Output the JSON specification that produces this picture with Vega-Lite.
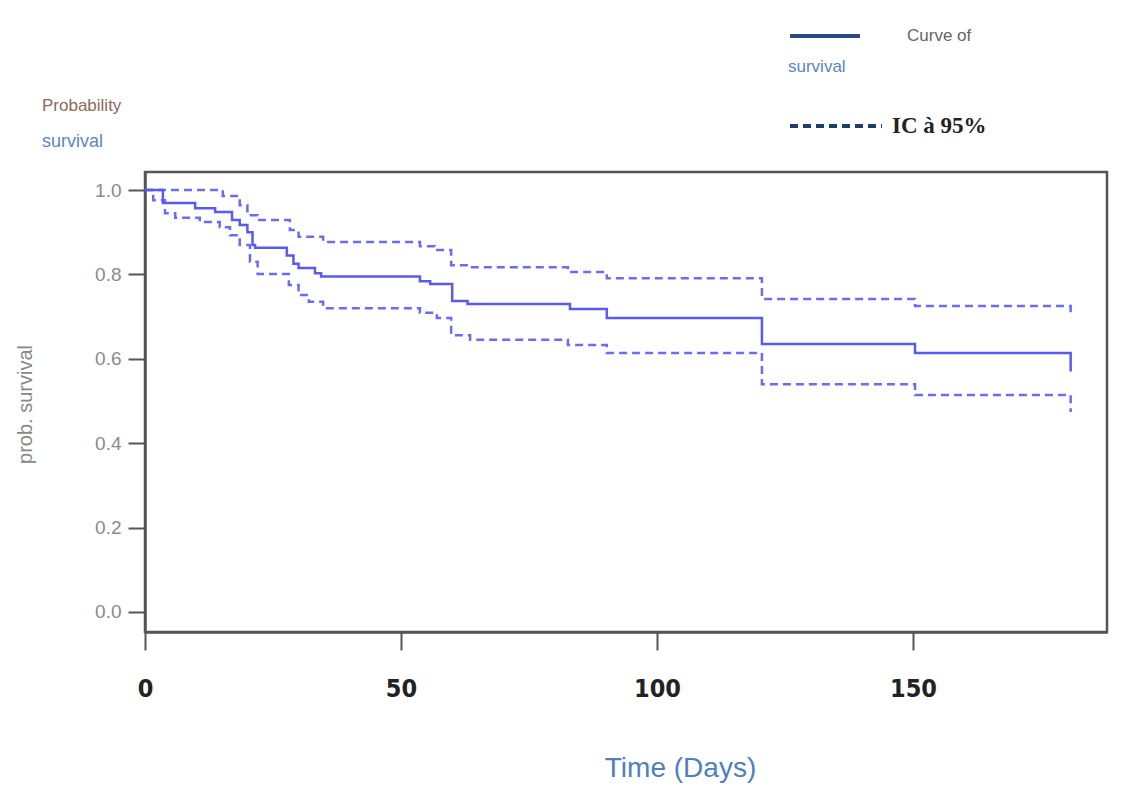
{
  "$schema": "https://vega.github.io/schema/vega-lite/v6.json",
  "width": 962,
  "height": 460,
  "autosize": {"type": "none"},
  "padding": {"left": 145, "top": 172, "right": 36, "bottom": 155},
  "background": "white",
  "title": {
    "text": "Probability",
    "subtitle": "survival",
    "anchor": "start",
    "frame": "group",
    "dx": -103,
    "dy": 179,
    "offset": 26,
    "font": "Liberation Sans",
    "fontSize": 17,
    "fontWeight": "normal",
    "color": "#8a6a5c",
    "subtitleFont": "Liberation Sans",
    "subtitleFontSize": 18,
    "subtitleColor": "#5b86c0",
    "subtitlePadding": 18
  },
  "datasets": {
    "km": [
      {"t": 0, "s": 1.0, "series": "survival"},
      {"t": 3.5, "s": 0.969, "series": "survival"},
      {"t": 9.8, "s": 0.957, "series": "survival"},
      {"t": 13.7, "s": 0.948, "series": "survival"},
      {"t": 17, "s": 0.929, "series": "survival"},
      {"t": 18.5, "s": 0.917, "series": "survival"},
      {"t": 20, "s": 0.9, "series": "survival"},
      {"t": 21, "s": 0.87, "series": "survival"},
      {"t": 21.5, "s": 0.863, "series": "survival"},
      {"t": 27.7, "s": 0.845, "series": "survival"},
      {"t": 29, "s": 0.825, "series": "survival"},
      {"t": 30, "s": 0.815, "series": "survival"},
      {"t": 33.2, "s": 0.803, "series": "survival"},
      {"t": 34.4, "s": 0.795, "series": "survival"},
      {"t": 53.7, "s": 0.784, "series": "survival"},
      {"t": 55.7, "s": 0.777, "series": "survival"},
      {"t": 60, "s": 0.737, "series": "survival"},
      {"t": 63, "s": 0.73, "series": "survival"},
      {"t": 83, "s": 0.718, "series": "survival"},
      {"t": 90.2, "s": 0.697, "series": "survival"},
      {"t": 120.5, "s": 0.635, "series": "survival"},
      {"t": 150.4, "s": 0.614, "series": "survival"},
      {"t": 180.8, "s": 0.57, "series": "survival"},
      {"t": 0, "s": 1.0, "series": "upper"},
      {"t": 15.2, "s": 0.986, "series": "upper"},
      {"t": 18.5, "s": 0.964, "series": "upper"},
      {"t": 20, "s": 0.94, "series": "upper"},
      {"t": 22, "s": 0.929, "series": "upper"},
      {"t": 28.3, "s": 0.905, "series": "upper"},
      {"t": 30, "s": 0.889, "series": "upper"},
      {"t": 34.8, "s": 0.877, "series": "upper"},
      {"t": 53.7, "s": 0.867, "series": "upper"},
      {"t": 56.6, "s": 0.858, "series": "upper"},
      {"t": 59.8, "s": 0.822, "series": "upper"},
      {"t": 63.5, "s": 0.817, "series": "upper"},
      {"t": 82.6, "s": 0.806, "series": "upper"},
      {"t": 90.2, "s": 0.791, "series": "upper"},
      {"t": 120.5, "s": 0.742, "series": "upper"},
      {"t": 150.4, "s": 0.725, "series": "upper"},
      {"t": 180.8, "s": 0.709, "series": "upper"},
      {"t": 0, "s": 1.0, "series": "lower"},
      {"t": 1.6, "s": 0.976, "series": "lower"},
      {"t": 3.9, "s": 0.945, "series": "lower"},
      {"t": 5.9, "s": 0.934, "series": "lower"},
      {"t": 10.7, "s": 0.924, "series": "lower"},
      {"t": 14.6, "s": 0.912, "series": "lower"},
      {"t": 16.6, "s": 0.893, "series": "lower"},
      {"t": 18.5, "s": 0.87, "series": "lower"},
      {"t": 20.5, "s": 0.83, "series": "lower"},
      {"t": 22, "s": 0.801, "series": "lower"},
      {"t": 28.1, "s": 0.775, "series": "lower"},
      {"t": 30, "s": 0.751, "series": "lower"},
      {"t": 32, "s": 0.735, "series": "lower"},
      {"t": 34.8, "s": 0.72, "series": "lower"},
      {"t": 53.7, "s": 0.709, "series": "lower"},
      {"t": 57, "s": 0.697, "series": "lower"},
      {"t": 59.8, "s": 0.656, "series": "lower"},
      {"t": 63.5, "s": 0.645, "series": "lower"},
      {"t": 82.6, "s": 0.633, "series": "lower"},
      {"t": 90.2, "s": 0.614, "series": "lower"},
      {"t": 120.5, "s": 0.54, "series": "lower"},
      {"t": 150.4, "s": 0.514, "series": "lower"},
      {"t": 180.8, "s": 0.474, "series": "lower"}
    ]
  },
  "data": {"name": "km"},
  "encoding": {
    "x": {
      "field": "t",
      "type": "quantitative",
      "scale": {"domain": [0, 187.9], "nice": false, "zero": false},
      "axis": {
        "values": [0, 50, 100, 150],
        "title": "Time (Days)",
        "grid": false,
        "domainColor": "#555555",
        "domainWidth": 2.5,
        "tickColor": "#555555",
        "tickWidth": 2,
        "tickSize": 18,
        "labelFont": "Liberation Sans Narrow, DejaVu Sans Condensed, Liberation Sans",
        "labelFontSize": 25,
        "labelFontWeight": "bold",
        "labelColor": "#222222",
        "labelPadding": 26,
        "labelFlush": false,
        "titleFont": "Liberation Sans",
        "titleFontSize": 28,
        "titleFontWeight": "normal",
        "titleColor": "#4f7fbf",
        "titleX": 535,
        "titleY": 136,
        "titleBaseline": "middle"
      }
    },
    "y": {
      "field": "s",
      "type": "quantitative",
      "scale": {"domain": [-0.0474, 1.0427], "nice": false, "zero": false},
      "axis": {
        "values": [0, 0.2, 0.4, 0.6, 0.8, 1.0],
        "format": ".1f",
        "title": "prob. survival",
        "grid": false,
        "domainColor": "#555555",
        "domainWidth": 2.5,
        "tickColor": "#555555",
        "tickWidth": 2,
        "tickSize": 17,
        "labelFont": "Liberation Sans",
        "labelFontSize": 19,
        "labelColor": "#8a8a8a",
        "labelPadding": 7,
        "labelFlush": false,
        "titleFont": "Liberation Sans",
        "titleFontSize": 20,
        "titleFontWeight": "normal",
        "titleColor": "#888888",
        "titleX": -120,
        "titleY": 232,
        "titleBaseline": "middle"
      }
    }
  },
  "layer": [
    {
      "transform": [{"filter": "datum.series !== 'survival'"}],
      "mark": {"type": "line", "interpolate": "step-after", "strokeWidth": 2.5, "color": "#6b6bf5"},
      "encoding": {
        "detail": {"field": "series"},
        "strokeDash": {
          "datum": "IC à 95%",
          "scale": {"range": [[8, 5]]},
          "legend": {
            "title": null,
            "orient": "none",
            "legendX": 643,
            "legendY": -94,
            "padding": 0,
            "symbolType": "stroke",
            "symbolSize": 8464,
            "symbolStrokeWidth": 4,
            "symbolStrokeColor": "#1f3c6e",
            "labelFont": "Liberation Serif",
            "labelFontSize": 23,
            "labelFontWeight": "bold",
            "labelColor": "#222222",
            "labelOffset": 8
          }
        }
      }
    },
    {
      "transform": [{"filter": "datum.series === 'survival'"}],
      "mark": {"type": "line", "interpolate": "step-after", "strokeWidth": 2.5, "color": "#5a5af2"},
      "encoding": {
        "opacity": {
          "datum": "Curve of",
          "scale": {"range": [1]},
          "legend": {
            "title": "survival",
            "titleOrient": "bottom",
            "titleAnchor": "start",
            "titleFont": "Liberation Sans",
            "titleFontSize": 17,
            "titleFontWeight": "normal",
            "titleColor": "#5b86c0",
            "titlePadding": 15,
            "orient": "none",
            "legendX": 643,
            "legendY": -173,
            "padding": 0,
            "symbolType": "stroke",
            "symbolSize": 4900,
            "symbolStrokeWidth": 4,
            "symbolStrokeColor": "#2b4a8a",
            "labelFont": "Liberation Sans",
            "labelFontSize": 17,
            "labelColor": "#666666",
            "labelOffset": 45
          }
        }
      }
    }
  ],
  "config": {
    "view": {"stroke": "#555555", "strokeWidth": 2.5}
  }
}
